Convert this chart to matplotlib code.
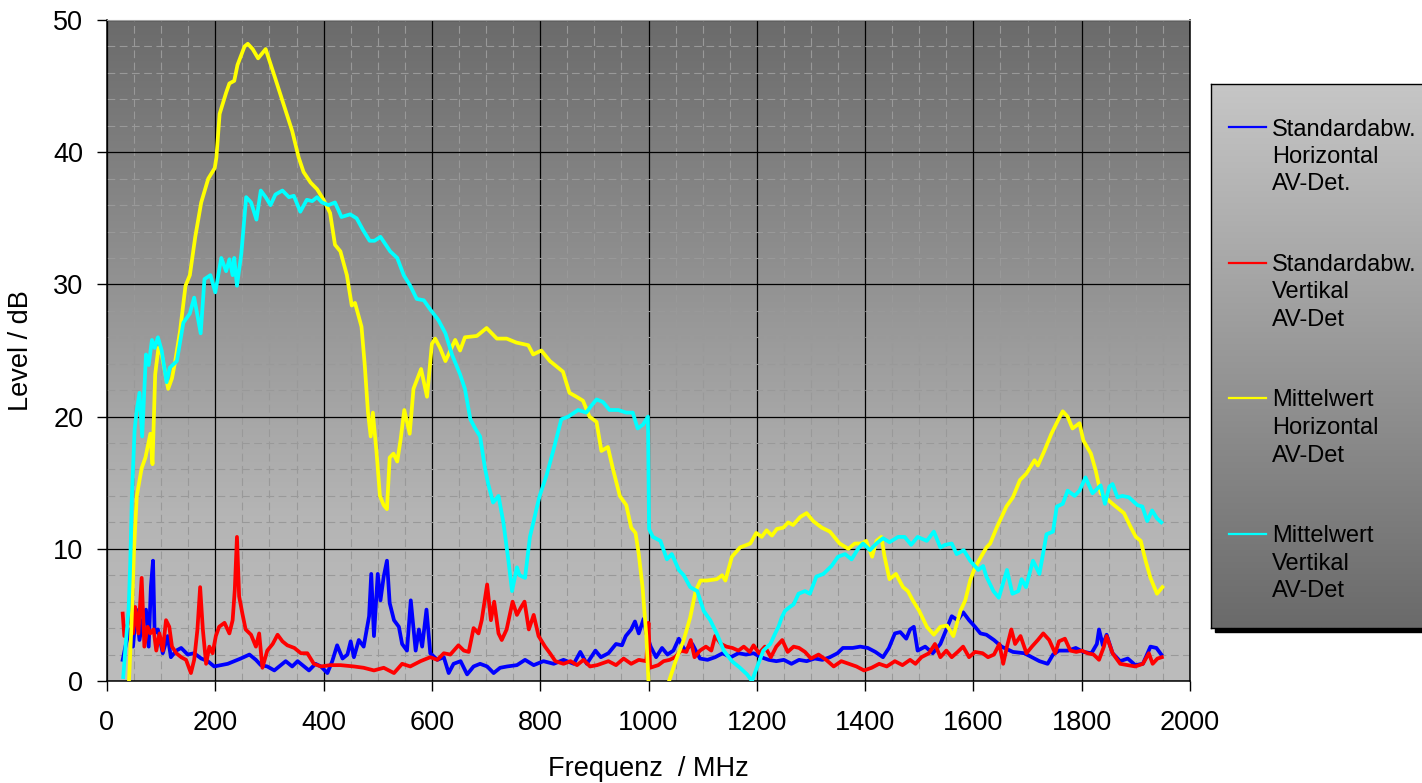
import numpy as np
import matplotlib
matplotlib.use("Agg")
import matplotlib.pyplot as plt
from matplotlib.colors import LinearSegmentedColormap
from matplotlib.patches import Rectangle
from matplotlib.ticker import MultipleLocator

plt.rcParams['font.family'] = ['Liberation Sans', 'DejaVu Sans']

# (frequency MHz, level dB)
std_h = [(29, 1.6), (35, 2.8), (42, 3.9), (48, 2.6), (54, 5.4), (60, 3.1), (66, 4.6), (72, 5.4), (77, 2.6),
         (81, 7.1), (85, 9.1), (88, 3.6), (94, 3.9), (103, 2.1), (112, 3.4), (118, 1.8), (128, 2.3), (137, 2.5),
         (149, 2.0), (161, 2.1), (174, 1.7), (186, 1.5), (198, 1.1), (210, 1.2), (223, 1.3), (235, 1.5),
         (247, 1.7), (263, 2.0), (275, 1.6), (284, 1.2), (296, 1.1), (309, 0.8), (321, 1.2), (330, 1.5),
         (342, 1.1), (352, 1.5), (364, 1.1), (373, 0.8), (385, 1.3), (395, 1.1), (407, 0.6), (416, 1.5),
         (425, 2.7), (435, 1.7), (444, 2.0), (450, 3.0), (456, 1.8), (465, 3.1), (474, 2.6), (484, 4.9),
         (488, 8.1), (493, 3.4), (500, 8.1), (505, 6.1), (511, 7.9), (517, 9.1), (522, 5.9), (530, 4.6),
         (539, 4.1), (545, 2.8), (554, 2.3), (561, 6.1), (570, 2.3), (576, 3.9), (582, 2.6), (590, 5.4),
         (597, 2.1), (610, 1.6), (622, 1.8), (631, 0.6), (640, 1.3), (653, 1.5), (665, 0.5), (677, 1.1),
         (689, 1.3), (702, 1.1), (714, 0.6), (726, 1.0), (739, 1.1), (757, 1.2), (772, 1.6), (788, 1.2),
         (806, 1.5), (825, 1.3), (843, 1.6), (862, 1.3), (874, 2.2), (886, 1.3), (902, 2.3), (912, 1.8),
         (926, 2.1), (940, 2.8), (951, 2.7), (958, 3.4), (968, 3.9), (975, 4.5), (982, 3.6), (991, 4.7),
         (996, 3.6), (1004, 2.6), (1014, 1.8), (1025, 2.5), (1035, 2.0), (1046, 2.3), (1056, 3.2), (1067, 2.3),
         (1081, 2.8), (1095, 1.7), (1109, 1.6), (1123, 1.8), (1137, 2.1), (1152, 1.8), (1166, 2.1),
         (1180, 2.0), (1194, 2.1), (1208, 1.8), (1222, 1.6), (1236, 1.5), (1250, 1.6), (1264, 1.3),
         (1278, 1.6), (1292, 1.5), (1307, 1.7), (1321, 1.6), (1335, 1.8), (1349, 2.1), (1359, 2.5),
         (1377, 2.5), (1391, 2.6), (1405, 2.5), (1419, 2.2), (1433, 1.8), (1444, 2.5), (1455, 3.6),
         (1465, 3.7), (1476, 3.2), (1483, 3.9), (1490, 4.1), (1497, 2.3), (1511, 2.6), (1525, 2.1),
         (1539, 2.8), (1550, 3.9), (1560, 4.9), (1571, 4.6), (1581, 5.2), (1592, 4.6), (1603, 4.1),
         (1613, 3.6), (1624, 3.5), (1638, 3.1), (1652, 2.6), (1673, 2.2), (1694, 2.1), (1708, 1.8),
         (1722, 1.5), (1737, 1.3), (1747, 2.0), (1758, 2.3), (1775, 2.3), (1789, 2.5), (1803, 2.2),
         (1818, 2.1), (1828, 2.8), (1832, 3.9), (1839, 2.7), (1846, 3.5), (1857, 2.1), (1871, 1.5),
         (1885, 1.7), (1899, 1.2), (1913, 1.3), (1927, 2.6), (1938, 2.5), (1947, 2.0)]

std_v = [(29, 5.1), (32, 3.4), (39, 4.4), (43, 6.6), (48, 3.6), (52, 5.6), (58, 3.6), (64, 7.8), (69, 2.6),
         (75, 4.1), (80, 3.6), (86, 3.9), (91, 2.3), (97, 3.6), (103, 2.3), (109, 4.6), (115, 4.1), (120, 2.6),
         (128, 2.1), (137, 1.8), (146, 1.6), (155, 0.6), (161, 1.6), (167, 3.9), (172, 7.1), (177, 3.9),
         (183, 1.3), (189, 2.6), (195, 2.1), (201, 3.4), (207, 4.1), (217, 4.4), (226, 3.6), (232, 4.6),
         (236, 6.9), (240, 10.9), (244, 6.4), (250, 5.1), (256, 3.9), (266, 3.5), (275, 2.6), (281, 3.6),
         (287, 1.0), (296, 2.3), (306, 2.8), (315, 3.5), (324, 3.0), (333, 2.7), (346, 2.5), (358, 2.1),
         (370, 2.1), (382, 1.3), (395, 1.1), (413, 1.2), (431, 1.2), (456, 1.1), (474, 1.0), (493, 0.8),
         (511, 1.0), (530, 0.6), (545, 1.3), (560, 1.1), (579, 1.5), (597, 1.8), (610, 1.6), (622, 2.1),
         (634, 2.0), (649, 2.7), (659, 2.3), (668, 2.2), (677, 4.0), (686, 3.6), (692, 4.6), (702, 7.3),
         (709, 4.6), (715, 6.0), (723, 3.6), (729, 3.1), (738, 3.9), (749, 6.0), (757, 5.0), (765, 5.6),
         (771, 6.0), (779, 3.9), (788, 5.0), (797, 3.4), (809, 2.6), (818, 2.1), (828, 1.5), (843, 1.3),
         (856, 1.5), (868, 1.2), (880, 1.6), (892, 1.1), (905, 1.2), (926, 1.5), (940, 1.2), (954, 1.7),
         (968, 1.3), (982, 1.6), (996, 1.5), (1000, 4.4), (1003, 1.0), (1018, 1.2), (1028, 1.5), (1039, 1.6),
         (1049, 1.8), (1060, 2.3), (1070, 2.2), (1078, 3.1), (1085, 1.8), (1095, 2.3), (1106, 2.6),
         (1116, 2.3), (1123, 3.4), (1134, 2.8), (1144, 2.6), (1155, 2.5), (1166, 2.3), (1176, 2.6),
         (1187, 2.2), (1194, 2.7), (1204, 2.1), (1215, 2.6), (1226, 1.8), (1236, 2.6), (1247, 3.1),
         (1257, 2.2), (1268, 2.6), (1278, 2.5), (1289, 2.2), (1300, 1.7), (1314, 2.0), (1328, 1.6),
         (1342, 1.1), (1356, 1.5), (1370, 1.3), (1384, 1.1), (1398, 0.8), (1412, 1.0), (1426, 1.3),
         (1440, 1.1), (1455, 1.5), (1469, 1.2), (1483, 1.6), (1493, 1.3), (1504, 1.8), (1518, 2.1),
         (1529, 2.8), (1539, 1.8), (1550, 2.3), (1560, 1.8), (1571, 2.2), (1581, 2.6), (1592, 1.8),
         (1603, 2.2), (1617, 2.1), (1627, 1.8), (1638, 2.0), (1648, 2.8), (1655, 1.3), (1662, 2.6),
         (1670, 3.9), (1677, 2.8), (1687, 3.4), (1698, 2.1), (1708, 2.6), (1719, 3.1), (1729, 3.6),
         (1740, 3.1), (1751, 2.1), (1758, 3.0), (1769, 3.2), (1779, 2.3), (1790, 2.2), (1800, 2.3),
         (1811, 2.1), (1822, 2.0), (1832, 1.6), (1841, 2.6), (1846, 3.4), (1857, 2.1), (1871, 1.3),
         (1885, 1.2), (1899, 1.1), (1913, 1.3), (1924, 2.1), (1931, 1.3), (1940, 1.7), (1948, 1.8)]

mean_h = [(40, -0.5), (45, 4.0), (50, 10.0), (55, 14.0), (64, 16.1), (71, 16.9), (80, 18.7), (84, 16.4),
          (89, 23.2), (95, 25.2), (101, 24.7), (113, 22.1), (120, 22.9), (126, 24.2), (135, 26.5), (145, 29.9),
          (153, 30.7), (163, 33.6), (174, 36.2), (187, 38.0), (199, 38.8), (202, 39.6), (208, 42.9),
          (220, 44.5), (226, 45.2), (235, 45.4), (241, 46.6), (254, 48.0), (260, 48.2), (269, 47.8),
          (279, 47.1), (293, 47.8), (309, 45.8), (327, 43.5), (342, 41.6), (354, 39.6), (363, 38.5),
          (376, 37.7), (388, 37.2), (400, 36.4), (412, 35.4), (421, 33.0), (431, 32.5), (443, 30.7),
          (452, 28.4), (458, 28.6), (470, 26.8), (476, 23.9), (482, 20.3), (487, 18.5), (491, 20.3),
          (498, 17.2), (504, 14.0), (511, 13.3), (517, 13.0), (522, 16.9), (529, 17.2), (536, 16.6),
          (542, 18.2), (549, 20.5), (559, 18.7), (566, 22.1), (580, 23.6), (591, 21.5), (600, 25.5),
          (606, 25.9), (615, 25.2), (625, 24.2), (634, 25.0), (643, 25.8), (652, 25.0), (661, 26.0),
          (683, 26.1), (701, 26.7), (720, 25.9), (738, 25.9), (756, 25.6), (778, 25.4), (787, 24.7),
          (802, 25.0), (818, 24.2), (842, 23.4), (854, 21.8), (867, 21.5), (879, 21.2), (891, 20.0),
          (904, 19.6), (913, 17.4), (925, 17.7), (934, 16.1), (947, 14.0), (959, 13.3), (968, 11.6),
          (976, 11.2), (982, 9.6), (989, 7.1), (996, 3.4), (1000, 0.0), (1015, -2.0), (1038, 0.0),
          (1050, 1.5), (1065, 3.1), (1077, 4.8), (1087, 6.8), (1096, 7.6), (1108, 7.6), (1126, 7.7),
          (1136, 8.0), (1142, 7.6), (1154, 9.4), (1169, 10.1), (1188, 10.4), (1199, 11.2), (1209, 10.9),
          (1218, 11.4), (1228, 11.0), (1237, 11.5), (1249, 11.6), (1258, 12.0), (1267, 11.8), (1280, 12.4),
          (1292, 12.7), (1304, 12.1), (1320, 11.6), (1335, 11.3), (1353, 10.4), (1369, 10.0), (1381, 10.4),
          (1393, 10.4), (1402, 10.6), (1413, 9.4), (1421, 10.6), (1430, 10.9), (1436, 9.4), (1445, 7.7),
          (1457, 8.1), (1470, 7.1), (1479, 6.8), (1488, 6.1), (1500, 5.3), (1514, 4.1), (1527, 3.5),
          (1539, 4.1), (1551, 4.2), (1563, 3.4), (1576, 5.3), (1585, 6.1), (1594, 7.6), (1603, 8.6),
          (1624, 10.1), (1631, 10.4), (1643, 11.6), (1661, 13.2), (1673, 13.9), (1686, 15.2), (1698, 15.7),
          (1713, 16.7), (1719, 16.3), (1731, 17.4), (1744, 18.7), (1756, 19.7), (1765, 20.4), (1774, 20.0),
          (1783, 19.1), (1796, 19.5), (1803, 18.2), (1817, 17.2), (1826, 15.9), (1835, 14.2), (1857, 13.4),
          (1878, 12.7), (1891, 11.6), (1900, 10.9), (1909, 10.6), (1918, 9.1), (1927, 7.8), (1939, 6.6),
          (1949, 7.1)]

mean_v = [(30, 0.3), (35, 3.0), (40, 5.5), (43, 9.0), (46, 14.0), (51, 19.0), (55, 20.5), (60, 21.8),
          (65, 18.5), (72, 24.7), (77, 23.9), (83, 25.8), (88, 25.2), (94, 26.0), (101, 25.0), (110, 22.6),
          (116, 23.7), (129, 24.2), (141, 27.1), (153, 27.8), (161, 29.0), (173, 26.3), (180, 30.4),
          (191, 30.7), (200, 29.4), (211, 32.0), (220, 31.0), (226, 31.9), (232, 30.7), (235, 32.0),
          (240, 29.9), (248, 32.3), (257, 36.6), (266, 36.2), (276, 34.9), (284, 37.1), (293, 36.6),
          (302, 36.0), (311, 36.8), (324, 37.1), (336, 36.6), (345, 36.7), (357, 35.5), (369, 36.4),
          (379, 36.3), (388, 36.6), (397, 36.2), (409, 36.0), (421, 36.2), (433, 35.1), (449, 35.3),
          (461, 35.0), (473, 34.1), (485, 33.3), (494, 33.3), (505, 33.6), (523, 32.5), (536, 32.0),
          (548, 30.7), (560, 29.9), (572, 28.9), (585, 28.8), (597, 28.1), (612, 27.3), (625, 26.3),
          (637, 24.7), (652, 23.2), (661, 22.1), (671, 19.8), (680, 19.1), (689, 18.5), (698, 16.1),
          (704, 14.9), (713, 13.5), (723, 14.0), (732, 12.0), (741, 9.2), (748, 6.8), (757, 8.6), (762, 8.0),
          (772, 7.8), (781, 10.9), (788, 12.1), (793, 13.0), (799, 14.0), (812, 15.6), (824, 17.4),
          (839, 19.8), (852, 20.0), (870, 20.5), (885, 20.3), (894, 20.8), (904, 21.3), (916, 21.1),
          (928, 20.5), (944, 20.5), (959, 20.3), (971, 20.3), (980, 19.1), (990, 19.4), (999, 20.0),
          (1001, 11.5), (1008, 10.9), (1022, 10.6), (1034, 9.2), (1043, 9.6), (1056, 8.4), (1065, 8.0),
          (1077, 7.1), (1090, 6.8), (1102, 5.3), (1114, 4.6), (1126, 3.6), (1139, 2.3), (1154, 1.5),
          (1169, 1.0), (1182, 0.5), (1191, 0.0), (1200, 1.0), (1212, 2.3), (1225, 2.8), (1234, 3.6),
          (1240, 4.1), (1246, 4.8), (1252, 5.3), (1261, 5.6), (1268, 5.8), (1277, 6.6), (1289, 6.8),
          (1298, 6.6), (1310, 7.9), (1323, 8.1), (1338, 8.7), (1350, 9.4), (1363, 9.6), (1375, 9.2),
          (1387, 10.0), (1396, 10.4), (1409, 9.9), (1421, 10.4), (1433, 10.8), (1445, 10.5), (1461, 10.9),
          (1473, 10.9), (1485, 10.3), (1497, 10.9), (1514, 10.6), (1527, 11.3), (1539, 10.1), (1548, 10.3),
          (1560, 10.4), (1569, 9.6), (1582, 9.9), (1594, 9.1), (1609, 8.4), (1618, 8.7), (1624, 7.9),
          (1637, 6.8), (1647, 6.3), (1662, 8.4), (1672, 6.6), (1683, 6.8), (1689, 7.7), (1697, 7.1),
          (1710, 9.1), (1722, 8.1), (1735, 11.1), (1747, 11.3), (1754, 13.2), (1765, 13.4), (1774, 14.4),
          (1787, 14.0), (1796, 14.4), (1807, 15.4), (1820, 14.2), (1835, 14.8), (1843, 13.4), (1851, 14.7),
          (1857, 14.9), (1866, 13.9), (1875, 14.0), (1887, 13.9), (1903, 13.3), (1912, 13.2), (1921, 12.1),
          (1930, 12.9), (1939, 12.3), (1947, 12.0)]

series = [
    (std_h, '#0000ff', "Standardabw.\nHorizontal\nAV-Det."),
    (std_v, '#ff0000', "Standardabw.\nVertikal\nAV-Det"),
    (mean_h, '#ffff00', "Mittelwert\nHorizontal\nAV-Det"),
    (mean_v, '#00ffff', "Mittelwert\nVertikal\nAV-Det"),
]

W, H = 1422, 783
fig = plt.figure(figsize=(W / 100, H / 100), dpi=100)
ax = fig.add_axes([107 / W, 1 - 681 / H, (1190 - 107) / W, (681 - 20) / H])

# grey gradient behind the plot area
grad = np.linspace(0, 1, 256).reshape(-1, 1)
bg_cmap = LinearSegmentedColormap.from_list('bg', [(0, '#bcbcbc'), (0.25, '#b5b5b5'), (1, '#6b6b6b')])
ax.imshow(grad, cmap=bg_cmap, origin='lower', aspect='auto', extent=[0, 1, 0, 1],
          transform=ax.transAxes, zorder=0, interpolation='bilinear')

for data, color, label in series:
    f, v = zip(*data)
    ax.plot(f, v, color=color, lw=2.7, zorder=3)

ax.set_xlim(0, 2000)
ax.set_ylim(0, 50)
ax.xaxis.set_major_locator(MultipleLocator(200))
ax.xaxis.set_minor_locator(MultipleLocator(50))
ax.yaxis.set_major_locator(MultipleLocator(10))
ax.yaxis.set_minor_locator(MultipleLocator(2))
ax.set_axisbelow(True)
ax.grid(which='major', color='black', lw=0.9)
ax.grid(which='minor', color='#999999', lw=0.8, ls=(0, (7, 4)))
ax.tick_params(which='major', direction='out', length=7, width=1, labelsize=19.5)
ax.tick_params(axis='x', pad=14)
ax.tick_params(axis='y', pad=10)
ax.tick_params(which='minor', length=0)
for s in ['left', 'bottom', 'right']:
    ax.spines[s].set_color('black')
    ax.spines[s].set_linewidth(1.1)
ax.spines['top'].set_color('#a0a0a0')

ax.set_xlabel('Frequenz  / MHz', fontsize=19.5, labelpad=14)
ax.set_ylabel('Level / dB', fontsize=19.5, labelpad=14)

# legend box with gradient and shadow
lx0, lx1, ly0, ly1 = 1211, 1440, 84, 628
fig.add_artist(Rectangle(((lx0 + 4) / W, 1 - (ly1 + 4) / H), (lx1 - lx0) / W, (ly1 - ly0) / H,
                         transform=fig.transFigure, color='black', zorder=0))
lax = fig.add_axes([lx0 / W, 1 - ly1 / H, (lx1 - lx0) / W, (ly1 - ly0) / H])
leg_cmap = LinearSegmentedColormap.from_list('leg', ['#6a6a6a', '#c6c6c6'])
lax.imshow(grad, cmap=leg_cmap, origin='lower', aspect='auto', extent=[0, 1, 0, 1],
           transform=lax.transAxes, zorder=0, interpolation='bilinear')
lax.set_xlim(lx0, lx1)
lax.set_ylim(ly1, ly0)
lax.set_xticks([])
lax.set_yticks([])
for s in lax.spines.values():
    s.set_color('black')
    s.set_linewidth(1.0)

for i, (data, color, label) in enumerate(series):
    y = 127 + i * 135.5
    lax.plot([1229, 1266], [y, y], color=color, lw=1.6)
    for j, line in enumerate(label.split('\n')):
        lax.text(1272, y + 8.5 + j * 27.5, line, fontsize=17, va='baseline', ha='left')

fig.savefig('out.png', dpi=100)
